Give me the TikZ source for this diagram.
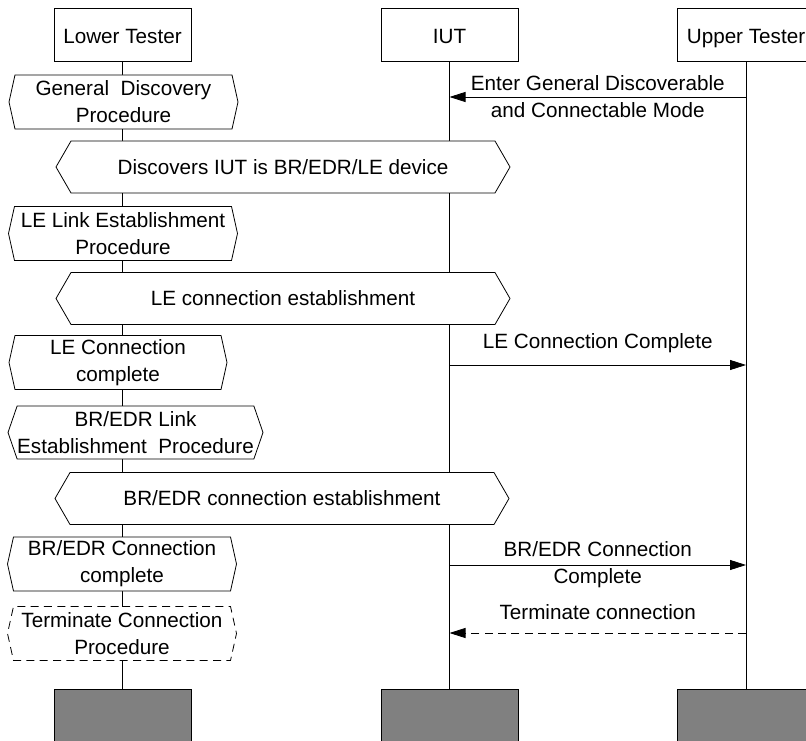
\documentclass[tikz,border=0pt]{standalone}
\usepackage{fontspec}
\setmainfont{Liberation Sans}
\usetikzlibrary{arrows.meta,shapes.symbols}

\begin{document}
\begin{tikzpicture}[x=0.75pt,y=-0.75pt,>={Triangle[length=12pt,width=7.5pt]},
    every node/.style={font=\fontsize{15.5}{20.25}\selectfont,align=center},
    entity/.style={draw,line width=.6pt,minimum width=102.75pt,
      minimum height=39.75pt,inner sep=0pt,text height=14pt,text depth=0pt},
    endbox/.style={entity,fill=black!50},
    proc/.style={signal,signal to=east and west,draw,fill=white,
      line width=.6pt,inner sep=0pt,minimum width=171.75pt,
      minimum height=40.5pt,signal pointer angle=155},
    shared/.style={proc,minimum width=340.5pt,minimum height=39pt,
      signal pointer angle=120},
    optproc/.style={proc,dash pattern=on 6pt off 4pt},
    msg/.style={->,line width=.6pt},
    life/.style={line width=.6pt}]
    \useasboundingbox (0,0) rectangle (806,741);

    % Instances and their end boxes.
    \node[entity] (lt) at (122.5,34.5) {Lower Tester};
    \node[entity] (iut) at (449.5,34.5) {IUT};
    \node[entity,minimum width=103.5pt] (ut) at (746,34.5) {Upper Tester};
    \node[endbox] (ltend) at (122.5,715.5) {};
    \node[endbox] (iutend) at (449.5,715.5) {};
    \node[endbox,minimum width=103.5pt] (utend) at (746,715.5) {};

    % Lifelines.
    \draw[life] (lt) -- (ltend);
    \draw[life] (iut) -- (iutend);
    \draw[life] (ut) -- (utend);

    % Procedures on the lower tester, and the shared ones.
    \node[proc] (gdp) at (123.5,102) {General\ \ Discovery\\Procedure};
    \node[shared] (disc) at (283,167) {Discovers IUT is BR/EDR/LE device};
    \node[proc] (lelink) at (123,233.5) {LE Link Establishment\\Procedure};
    \node[shared] (leconn) at (283,298.5) {LE connection establishment};
    \node[proc,minimum width=163.5pt] (ledone) at (118,362.5)
      {LE Connection\\complete};
    \node[proc,minimum width=191.25pt,minimum height=39.75pt,
      signal pointer angle=142] (brlink) at (135.5,432.5)
      {BR/EDR Link\\Establishment\ \ Procedure};
    \node[shared] (brconn) at (282,498.5) {BR/EDR connection establishment};
    \node[proc] (brdone) at (122,564) {BR/EDR Connection\\complete};
    \node[optproc] (term) at (122,633.5) {Terminate Connection\\Procedure};

    % Messages between IUT and upper tester.
    \coordinate (m1) at (0,97);
    \coordinate (m2) at (0,365);
    \coordinate (m3) at (0,565);
    \coordinate (m4) at (0,633);
    \draw[msg] (ut |- m1) -- (iut |- m1)
      node[midway] {Enter General Discoverable\\and Connectable Mode};
    \draw[msg] (iut |- m2) -- (ut |- m2)
      node[midway,yshift=16.5pt] {LE Connection Complete};
    \draw[msg] (iut |- m3) -- (ut |- m3)
      node[midway] {BR/EDR Connection\\Complete};
    \draw[msg,dash pattern=on 6pt off 4pt] (ut |- m4) -- (iut |- m4)
      node[midway,yshift=15.75pt] {Terminate connection};
  \end{tikzpicture}
\end{document}
